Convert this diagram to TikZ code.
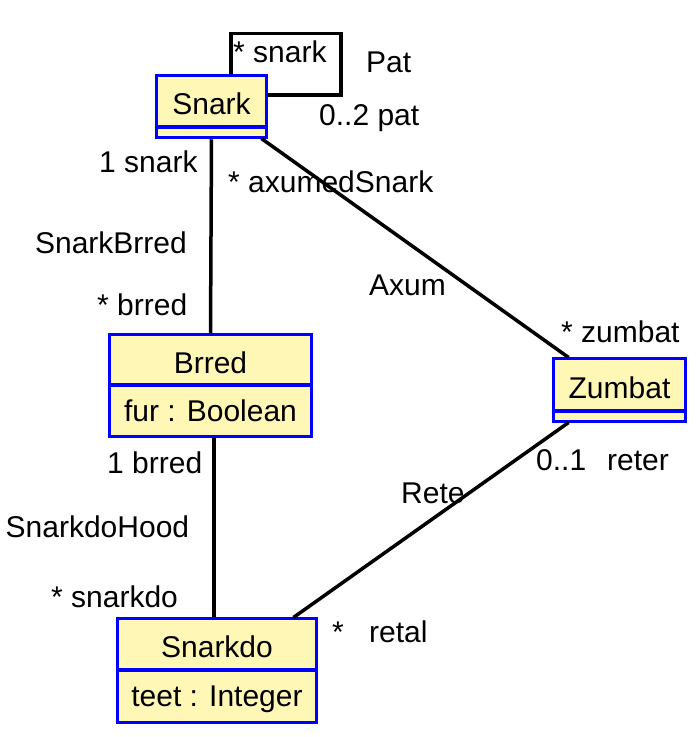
\documentclass[tikz,border=0pt]{standalone}
\usepackage{fontspec}
\setmainfont{Liberation Sans}
\usetikzlibrary{positioning}

\begin{document}
\begin{tikzpicture}[x=1pt, y=-1pt, font=\fontsize{30}{36}\selectfont]
    % Define colours
    \definecolor{borderColour}{HTML}{0000FF}
    \definecolor{fillColour}{HTML}{FFF7B5}

    % Define styles
    \tikzset{
        classBox/.style={draw=borderColour, fill=fillColour, line width=3.5pt, inner sep=0pt, outer sep=0pt, text depth=0pt},
        classHead/.style={classBox, text height=27pt},
        assoc/.style={black, line width=3.5pt, shorten <=1.75pt, shorten >=1.75pt},
        role/.style={anchor=base west, inner sep=0pt}
    }

    % Fix the page size
    \useasboundingbox (0,0) rectangle (700,737);

    % Draw the classes
    \node[classHead, minimum width=110pt, minimum height=51.5pt] (snark) at (211.5,101.25) {Snark};
    \node[classBox, minimum width=110pt, minimum height=10.5pt, below=0pt of snark] (snarkBody) {};

    \node[classHead, minimum width=202pt, minimum height=50.5pt] (brred) at (210.5,359.75) {Brred};
    \node[classBox, minimum width=202pt, minimum height=51.5pt, below=0pt of brred] (brredBody) {fur : Boolean};

    \node[classHead, minimum width=199pt, minimum height=51.5pt] (snarkdo) at (217,644.25) {Snarkdo};
    \node[classBox, minimum width=199pt, minimum height=52.5pt, below=0pt of snarkdo] (snarkdoBody) {teet : Integer};

    \node[classHead, minimum width=132pt, minimum height=52.5pt] (zumbat) at (619.5,384.75) {Zumbat};
    \node[classBox, minimum width=132pt, minimum height=10.5pt, below=0pt of zumbat] (zumbatBody) {};

    % Draw the associations
    \coordinate (patCorner) at (341,33.5);
    \draw[assoc] ([xshift=19.5pt]snark.north) |- (patCorner) |- ([yshift=6.25pt]snark.east);
    \draw[assoc] (snarkBody.south) -- (brred.north);
    \draw[assoc] ([xshift=48.5pt]snarkBody.south) -- ([xshift=-49.5pt]zumbat.north);
    \draw[assoc] ([xshift=3.5pt]brredBody.south) -- ([xshift=-3pt]snarkdo.north);
    \draw[assoc] ([xshift=-49.5pt]zumbatBody.south) -- ([xshift=75pt]snarkdo.north);

    % Label the association ends
    \node[role] (patRole) at (233,62) {* snark};
    \node[role] (patName) at (366,72) {Pat};
    \node[role] (patMult) at (319,125) {0..2 pat};
    \node[role] (snarkRole) at (99,172) {1 snark};
    \node[role] (axumRole) at (228,192) {* axumedSnark};
    \node[anchor=base east, inner sep=0pt] (snarkBrredName) at (187,253) {SnarkBrred};
    \node[role] (axumName) at (369,295) {Axum};
    \node[role] (brredRole) at (97,315) {* brred};
    \node[role] (zumbatRole) at (561,342) {* zumbat};
    \node[role] (brredOneRole) at (107,473) {1 brred};
    \node[role] (reterMult) at (536,470) {0..1};
    \node[role] (reterRole) at (607,470) {reter};
    \node[role] (reteName) at (401,503) {Rete};
    \node[role] (hoodName) at (5.5,537) {SnarkdoHood};
    \node[role] (snarkdoRole) at (51,607) {* snarkdo};
    \node[role] (retalMult) at (332,642) {*};
    \node[role] (retalRole) at (369,642) {retal};

\end{tikzpicture}
\end{document}
